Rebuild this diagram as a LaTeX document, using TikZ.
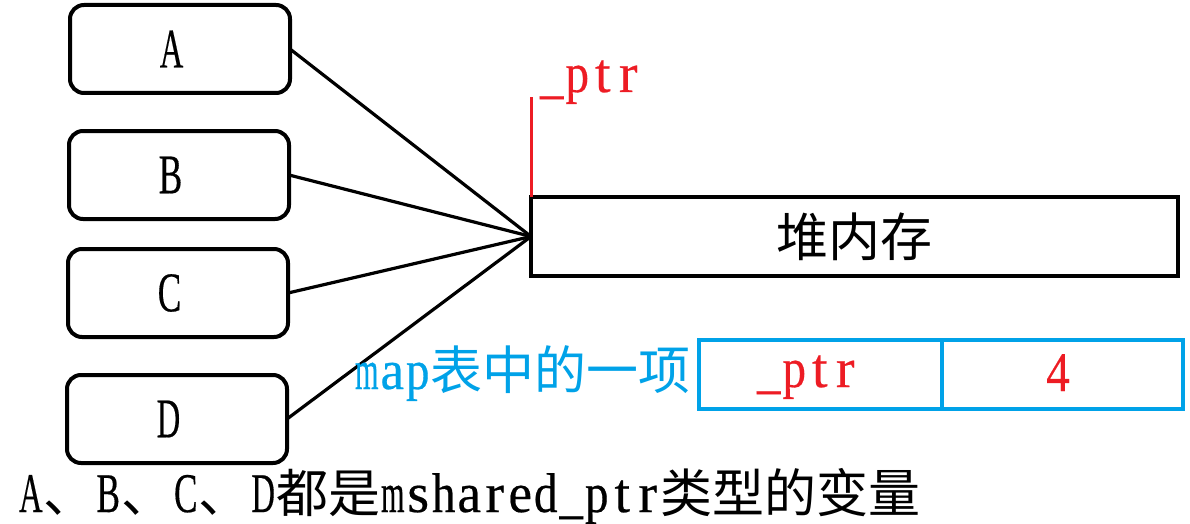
\documentclass[tikz,border=0pt]{standalone}
\usepackage{fontspec}
\setmainfont{Liberation Serif}
\newfontfamily\latf[FakeBold=0.4]{Liberation Serif}
\newfontfamily\cjk{Noto Sans CJK SC}
\newlength\chw
\newcommand\fitch[1]{\settowidth\chw{#1}\pgfmathsetmacro\chsc{min(1,23.5/\the\chw)}\makebox[25.5pt]{\scalebox{\chsc}[1]{#1}}}
\makeatletter
\newcommand\lat[1]{{\fontsize{56pt}{60pt}\latf\@tfor\mych:=#1\do{\fitch{\mych}}}}
\makeatother
\newcommand\han[1]{{\fontsize{52pt}{60pt}\cjk #1}}
\definecolor{mapcyan}{HTML}{00A2E8}
\definecolor{ptrred}{HTML}{ED1C24}
\tikzset{
  var/.style={draw, line width=4pt, rounded corners=14pt, minimum width=220pt, minimum height=88pt, inner sep=0pt, outer sep=0pt},
  heapbox/.style={draw, line width=4pt, minimum width=647pt, minimum height=79pt, inner sep=0pt, outer sep=0pt},
  cell/.style={draw=mapcyan, line width=4pt, minimum height=69pt, inner sep=0pt, outer sep=0pt, text=ptrred},
  link/.style={line width=3.2pt},
  lbl/.style={inner sep=0pt, outer sep=0pt, anchor=base west}
}
\begin{document}
\begin{tikzpicture}[x=1pt,y=-1pt]
\useasboundingbox (0,0) rectangle (1190,524);
% variables
\node[var] (A) at (180,49) {\lat{A}\kern17pt};
\node[var] (B) at (179,175) {\lat{B}\kern17pt};
\node[var] (C) at (178,293) {\lat{C}\kern17pt};
\node[var] (D) at (177,419) {\lat{D}\kern17pt};
% heap
\node[heapbox] (heap) at (854.5,236.5) {\han{堆内存}};
\draw[link] (A.east) -- (heap.west);
\draw[link] (B.east) -- (heap.west);
\draw[link] (C.east) -- (heap.west);
\draw[link] (D.east) -- (heap.west);
% _ptr pointer
\coordinate (ptrtop) at (531,97);
\draw[ptrred, line width=3pt] (heap.north west) -- (ptrtop);
\node[lbl, text=ptrred] (ptrlbl) at (539,92) {\lat{\_ptr}};
% map entry
\node[cell, minimum width=243pt] (c1) at (820.5,374.5) {};
\node[cell, minimum width=241pt] (c2) at (1062.5,374.5) {};
\node[lbl, text=ptrred] (c1t) at (756,387) {\lat{\_ptr}};
\node[inner sep=0pt, anchor=base, text=ptrred] (c2t) at (1058,391) {\lat{4}};
\node[lbl, text=mapcyan] (maplbl) at (354,389) {\lat{map}\han{表中的一项}};
% caption
\node[lbl] (cap) at (18,512) {\lat{A}\han{、}\lat{B}\han{、}\lat{C}\han{、}\lat{D}\han{都是}\lat{mshared\_ptr}\han{类型的变量}};
\end{tikzpicture}
\end{document}
